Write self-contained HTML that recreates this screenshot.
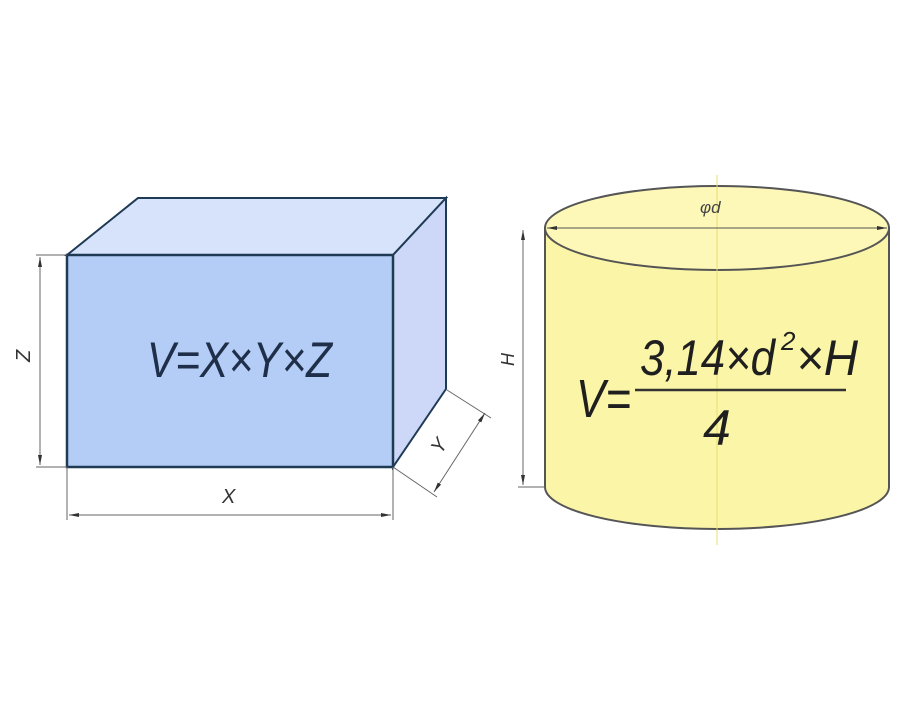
<!DOCTYPE html>
<html><head><style>
body{margin:0;background:#fff;width:904px;height:702px;overflow:hidden}
text{font-family:"Liberation Sans",sans-serif;font-style:italic}
</style></head><body>
<svg width="904" height="702" viewBox="0 0 904 702">
<defs>
<marker id="a" viewBox="0 0 10 6" refX="10" refY="3" markerWidth="10" markerHeight="6" orient="auto-start-reverse" markerUnits="userSpaceOnUse"><path d="M0,1 L10,3 L0,5z" fill="#333"/></marker>
</defs>
<polygon points="67,255 138,198 446,198 393,255" fill="#d6e3fb" stroke="#1f3a55" stroke-width="2"/>
<polygon points="393,255 446,198 446,389 393,467" fill="#cdd8f8" stroke="#1f3a55" stroke-width="2"/>
<rect x="67" y="255" width="326" height="212" fill="#b3cdf6" stroke="#1f3a55" stroke-width="2.5"/>
<g stroke="#666" stroke-width="1" fill="none">
<line x1="36" y1="255" x2="67" y2="255"/><line x1="36" y1="467" x2="67" y2="467"/>
<line x1="40" y1="257" x2="40" y2="465" marker-start="url(#a)" marker-end="url(#a)"/>
<line x1="67" y1="467" x2="67" y2="520"/><line x1="393" y1="467" x2="393" y2="520"/>
<line x1="69" y1="515" x2="391" y2="515" marker-start="url(#a)" marker-end="url(#a)"/>
<line x1="447" y1="390" x2="491" y2="418"/><line x1="393" y1="467" x2="437" y2="497"/>
<line x1="485" y1="413" x2="434" y2="492" marker-start="url(#a)" marker-end="url(#a)"/>
</g>
<text x="147" y="377" font-size="50" fill="#1f2f4a" textLength="185" lengthAdjust="spacingAndGlyphs">V=X×Y×Z</text>
<text x="222" y="503" font-size="20" fill="#333">X</text>
<text transform="translate(30,362) rotate(-90)" font-size="20" fill="#333">Z</text>
<text transform="translate(441,455) rotate(-57)" font-size="20" fill="#333">Y</text>
<path d="M545,228 L545,487 A172,42 0 0 0 889,487 L889,228 Z" fill="#fbf5a8" stroke="#555" stroke-width="2"/>
<ellipse cx="717" cy="228" rx="172" ry="42" fill="#fdf8b8" stroke="#555" stroke-width="2"/>
<line x1="717" y1="175" x2="717" y2="545" stroke="#e8dc70" stroke-width="1"/>
<line x1="547" y1="228" x2="887" y2="228" stroke="#555" stroke-width="1" marker-start="url(#a)" marker-end="url(#a)"/>
<g stroke="#666" stroke-width="1" fill="none">
<line x1="523" y1="230" x2="523" y2="485" marker-start="url(#a)" marker-end="url(#a)"/>
<line x1="518" y1="487" x2="545" y2="487"/>
</g>
<text x="700" y="213" font-size="17" fill="#444">φd</text>
<text transform="translate(514,366) rotate(-90)" font-size="18" fill="#333">H</text>
<text x="576" y="417" font-size="54" fill="#1f1f1f" textLength="55" lengthAdjust="spacingAndGlyphs">V=</text>
<line x1="635" y1="390" x2="846" y2="390" stroke="#333" stroke-width="2.5"/>
<text x="640" y="375" font-size="50" fill="#1f1f1f" textLength="135" lengthAdjust="spacingAndGlyphs">3,14×d</text>
<text x="781" y="350" font-size="26" fill="#1f1f1f">2</text>
<text x="796" y="375" font-size="50" fill="#1f1f1f" textLength="62" lengthAdjust="spacingAndGlyphs">×H</text>
<text x="703" y="445" font-size="50" fill="#1f1f1f">4</text>
</svg>
</body></html>
